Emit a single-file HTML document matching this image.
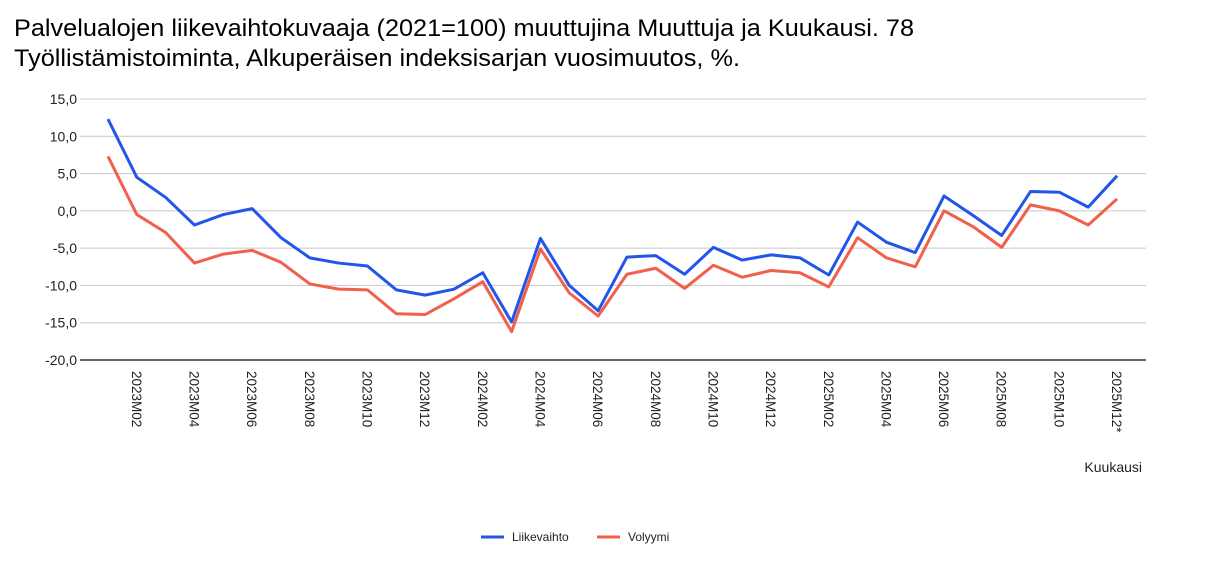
<!DOCTYPE html>
<html><head><meta charset="utf-8"><style>
body{margin:0;background:#fff;width:1226px;height:567px;overflow:hidden}
svg{font-family:"Liberation Sans",Arial,sans-serif}
</style></head><body>
<svg id="s" width="1226" height="567" viewBox="0 0 1226 567">
<text x="14" y="36" font-size="24" textLength="900" lengthAdjust="spacingAndGlyphs" fill="#000">Palvelualojen liikevaihtokuvaaja (2021=100) muuttujina Muuttuja ja Kuukausi. 78</text>
<text x="14" y="66" font-size="24" textLength="726" lengthAdjust="spacingAndGlyphs" fill="#000">Työllistämistoiminta, Alkuperäisen indeksisarjan vuosimuutos, %.</text>
<g id="g"></g>
<text x="1142" y="472" font-size="14" text-anchor="end" fill="#222">Kuukausi</text>
<line x1="481" y1="537" x2="504" y2="537" stroke="#2255e8" stroke-width="3"/>
<text x="512" y="541" font-size="12" fill="#222">Liikevaihto</text>
<line x1="597" y1="537" x2="620" y2="537" stroke="#f0604a" stroke-width="3"/>
<text x="628" y="541" font-size="12" fill="#222">Volyymi</text>
</svg>
<script>
var g=document.getElementById('g'),h='';
var y0=99,pu=261/35;function Y(v){return y0+(15-v)*pu}
var vals=[15,10,5,0,-5,-10,-15,-20];
vals.forEach(function(v){var y=Y(v);
h+='<line x1="80" x2="1146" y1="'+y+'" y2="'+y+'" stroke="'+(v==-20?'#333':'#c8c8c8')+'" stroke-width="'+(v==-20?1.5:1)+'"/>';
h+='<text x="77" y="'+(y+5)+'" font-size="14" text-anchor="end" fill="#222">'+v.toFixed(1).replace('.',',')+'</text>';});
function X(i){return 108+i*28.83}
var b=[12.3,4.5,1.8,-1.9,-0.5,0.3,-3.6,-6.3,-7.0,-7.4,-10.6,-11.3,-10.5,-8.3,-14.9,-3.7,-10.0,-13.4,-6.2,-6.0,-8.5,-4.9,-6.6,-5.9,-6.3,-8.6,-1.5,-4.2,-5.6,2.0,-0.6,-3.3,2.6,2.5,0.5,4.7];
var r=[7.3,-0.5,-2.9,-7.0,-5.8,-5.3,-6.9,-9.8,-10.5,-10.6,-13.8,-13.9,-11.8,-9.5,-16.2,-5.1,-11.0,-14.1,-8.5,-7.7,-10.4,-7.3,-8.9,-8.0,-8.3,-10.2,-3.6,-6.3,-7.5,0.0,-2.1,-4.9,0.8,0.0,-1.9,1.6];
function pl(a,c){return '<polyline fill="none" stroke="'+c+'" stroke-width="3" stroke-linejoin="round" points="'+a.map(function(v,i){return X(i)+','+Y(v)}).join(' ')+'"/>'}
h+=pl(r,'#f0604a')+pl(b,'#2255e8');
for(var i=1;i<36;i+=2){var yr=2023+Math.floor(i/12),m=i%12+1;var lab=yr+'M'+(m<10?'0':'')+m+(i==35?'*':'');
var x=X(i);h+='<text transform="translate('+(x-5)+',371) rotate(90)" font-size="13.5" fill="#222">'+lab+'</text>';}
g.innerHTML=h;
</script>
</body></html>
